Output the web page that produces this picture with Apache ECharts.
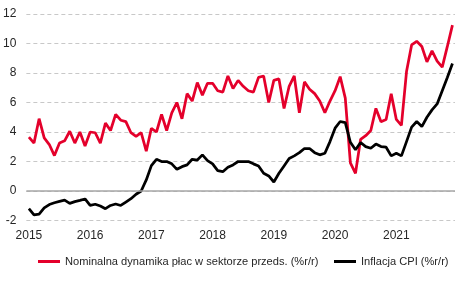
<!DOCTYPE html>
<html>
<head>
<meta charset="utf-8">
<script src="https://cdn.jsdelivr.net/npm/echarts@6/dist/echarts.min.js"></script>
<style>
html,body{margin:0;padding:0;background:#fff;}
#chart{width:467px;height:281px;}
</style>
</head>
<body>
<div id="chart"></div>
<script>
const years = ['2015', '2016', '2017', '2018', '2019', '2020', '2021'];
const months = ['01', '02', '03', '04', '05', '06', '07', '08', '09', '10', '11', '12'];
const yearLabels = years;

const wageName = 'Nominalna dynamika płac w sektorze przeds. (%r/r)';
const cpiName = 'Inflacja CPI (%r/r)';

const wages = [
  3.65, 3.25, 4.9, 3.6, 3.15, 2.4, 3.25, 3.4, 4.05, 3.25, 4.0, 3.05,
  4.0, 3.95, 3.25, 4.6, 4.1, 5.2, 4.8, 4.7, 3.95, 3.7, 3.95, 2.7,
  4.25, 4.0, 5.2, 4.1, 5.3, 6.0, 4.9, 6.6, 6.1, 7.35, 6.5, 7.3,
  7.3, 6.8, 6.7, 7.8, 6.95, 7.5, 7.1, 6.8, 6.7, 7.7, 7.8, 6.0,
  7.5, 7.6, 5.6, 7.1, 7.8, 5.3, 7.4, 6.9, 6.6, 6.1, 5.3, 6.1,
  6.8, 7.75, 6.3, 1.9, 1.2, 3.5, 3.75, 4.1, 5.6, 4.7, 4.85, 6.6,
  4.85, 4.45, 8.1, 9.9, 10.15, 9.8, 8.75, 9.5, 8.8, 8.4, 9.8, 11.25
];

const cpi = [
  -1.2, -1.62, -1.57, -1.15, -0.92, -0.8, -0.7, -0.62, -0.84, -0.72, -0.64, -0.54,
  -0.98, -0.9, -1.02, -1.2, -0.98, -0.88, -0.98, -0.75, -0.52, -0.22, 0.0, 0.75,
  1.72, 2.15, 2.0, 2.0, 1.84, 1.47, 1.65, 1.77, 2.15, 2.1, 2.45, 2.06,
  1.84, 1.38, 1.31, 1.61, 1.77, 2.0, 2.0, 2.0, 1.84, 1.7, 1.2, 1.02,
  0.61, 1.2, 1.7, 2.2, 2.38, 2.6, 2.88, 2.88, 2.6, 2.45, 2.56, 3.35,
  4.26, 4.71, 4.63, 3.3, 2.8, 3.29, 3.01, 2.9, 3.18, 3.01, 2.97, 2.38,
  2.56, 2.38, 3.35, 4.33, 4.71, 4.37, 5.0, 5.5, 5.9, 6.8, 7.7, 8.65
];

const categories = [];
years.forEach(function (y) { months.forEach(function (m) { categories.push(y + '-' + m); }); });

const font = 'Liberation Sans, Arial, sans-serif';
const textColor = '#262626';
const red = '#E4002B';

const chart = echarts.init(document.getElementById('chart'), null, {renderer: 'canvas'});
chart.setOption({
  animation: false,
  backgroundColor: '#ffffff',
  grid: {left: 26, right: 12, top: 14, bottom: 60.5, containLabel: false},
  legend: [
    {
      data: [wageName], left: 38, top: 256, padding: 0, icon: 'rect', itemWidth: 22, itemHeight: 3,
      textStyle: {fontFamily: font, fontSize: 11.1, color: textColor}, selectedMode: false
    },
    {
      data: [cpiName], left: 334, top: 256, padding: 0, icon: 'rect', itemWidth: 22, itemHeight: 3,
      textStyle: {fontFamily: font, fontSize: 11.1, color: textColor}, selectedMode: false
    }
  ],
  xAxis: {
    type: 'category',
    data: categories,
    boundaryGap: true,
    axisLine: {show: false},
    axisTick: {show: false},
    splitLine: {show: false},
    axisLabel: {
      interval: function (index) { return index % 12 === 0; },
      formatter: function (value, index) { return yearLabels[Math.floor(index / 12)]; },
      fontFamily: font, fontSize: 12, color: textColor, margin: 9
    }
  },
  yAxis: {
    type: 'value',
    min: -2, max: 12, interval: 2,
    axisLine: {show: false},
    axisTick: {show: false},
    axisLabel: {fontFamily: font, fontSize: 12, color: textColor, margin: 10},
    splitLine: {show: true, lineStyle: {color: '#C8C8C8', type: [4, 3], width: 1}}
  },
  series: [
    {
      name: wageName, type: 'line', data: wages, showSymbol: false, symbol: 'none',
      lineStyle: {color: red, width: 2.75}, itemStyle: {color: red}, z: 2,
      markLine: {
        silent: true, symbol: 'none', label: {show: false},
        lineStyle: {color: '#A6A6A6', type: 'solid', width: 1.5},
        data: [{yAxis: 0}]
      }
    },
    {
      name: cpiName, type: 'line', data: cpi, showSymbol: false, symbol: 'none',
      lineStyle: {color: '#000000', width: 2.75}, itemStyle: {color: '#000000'}, z: 3
    }
  ]
});
</script>
</body>
</html>
